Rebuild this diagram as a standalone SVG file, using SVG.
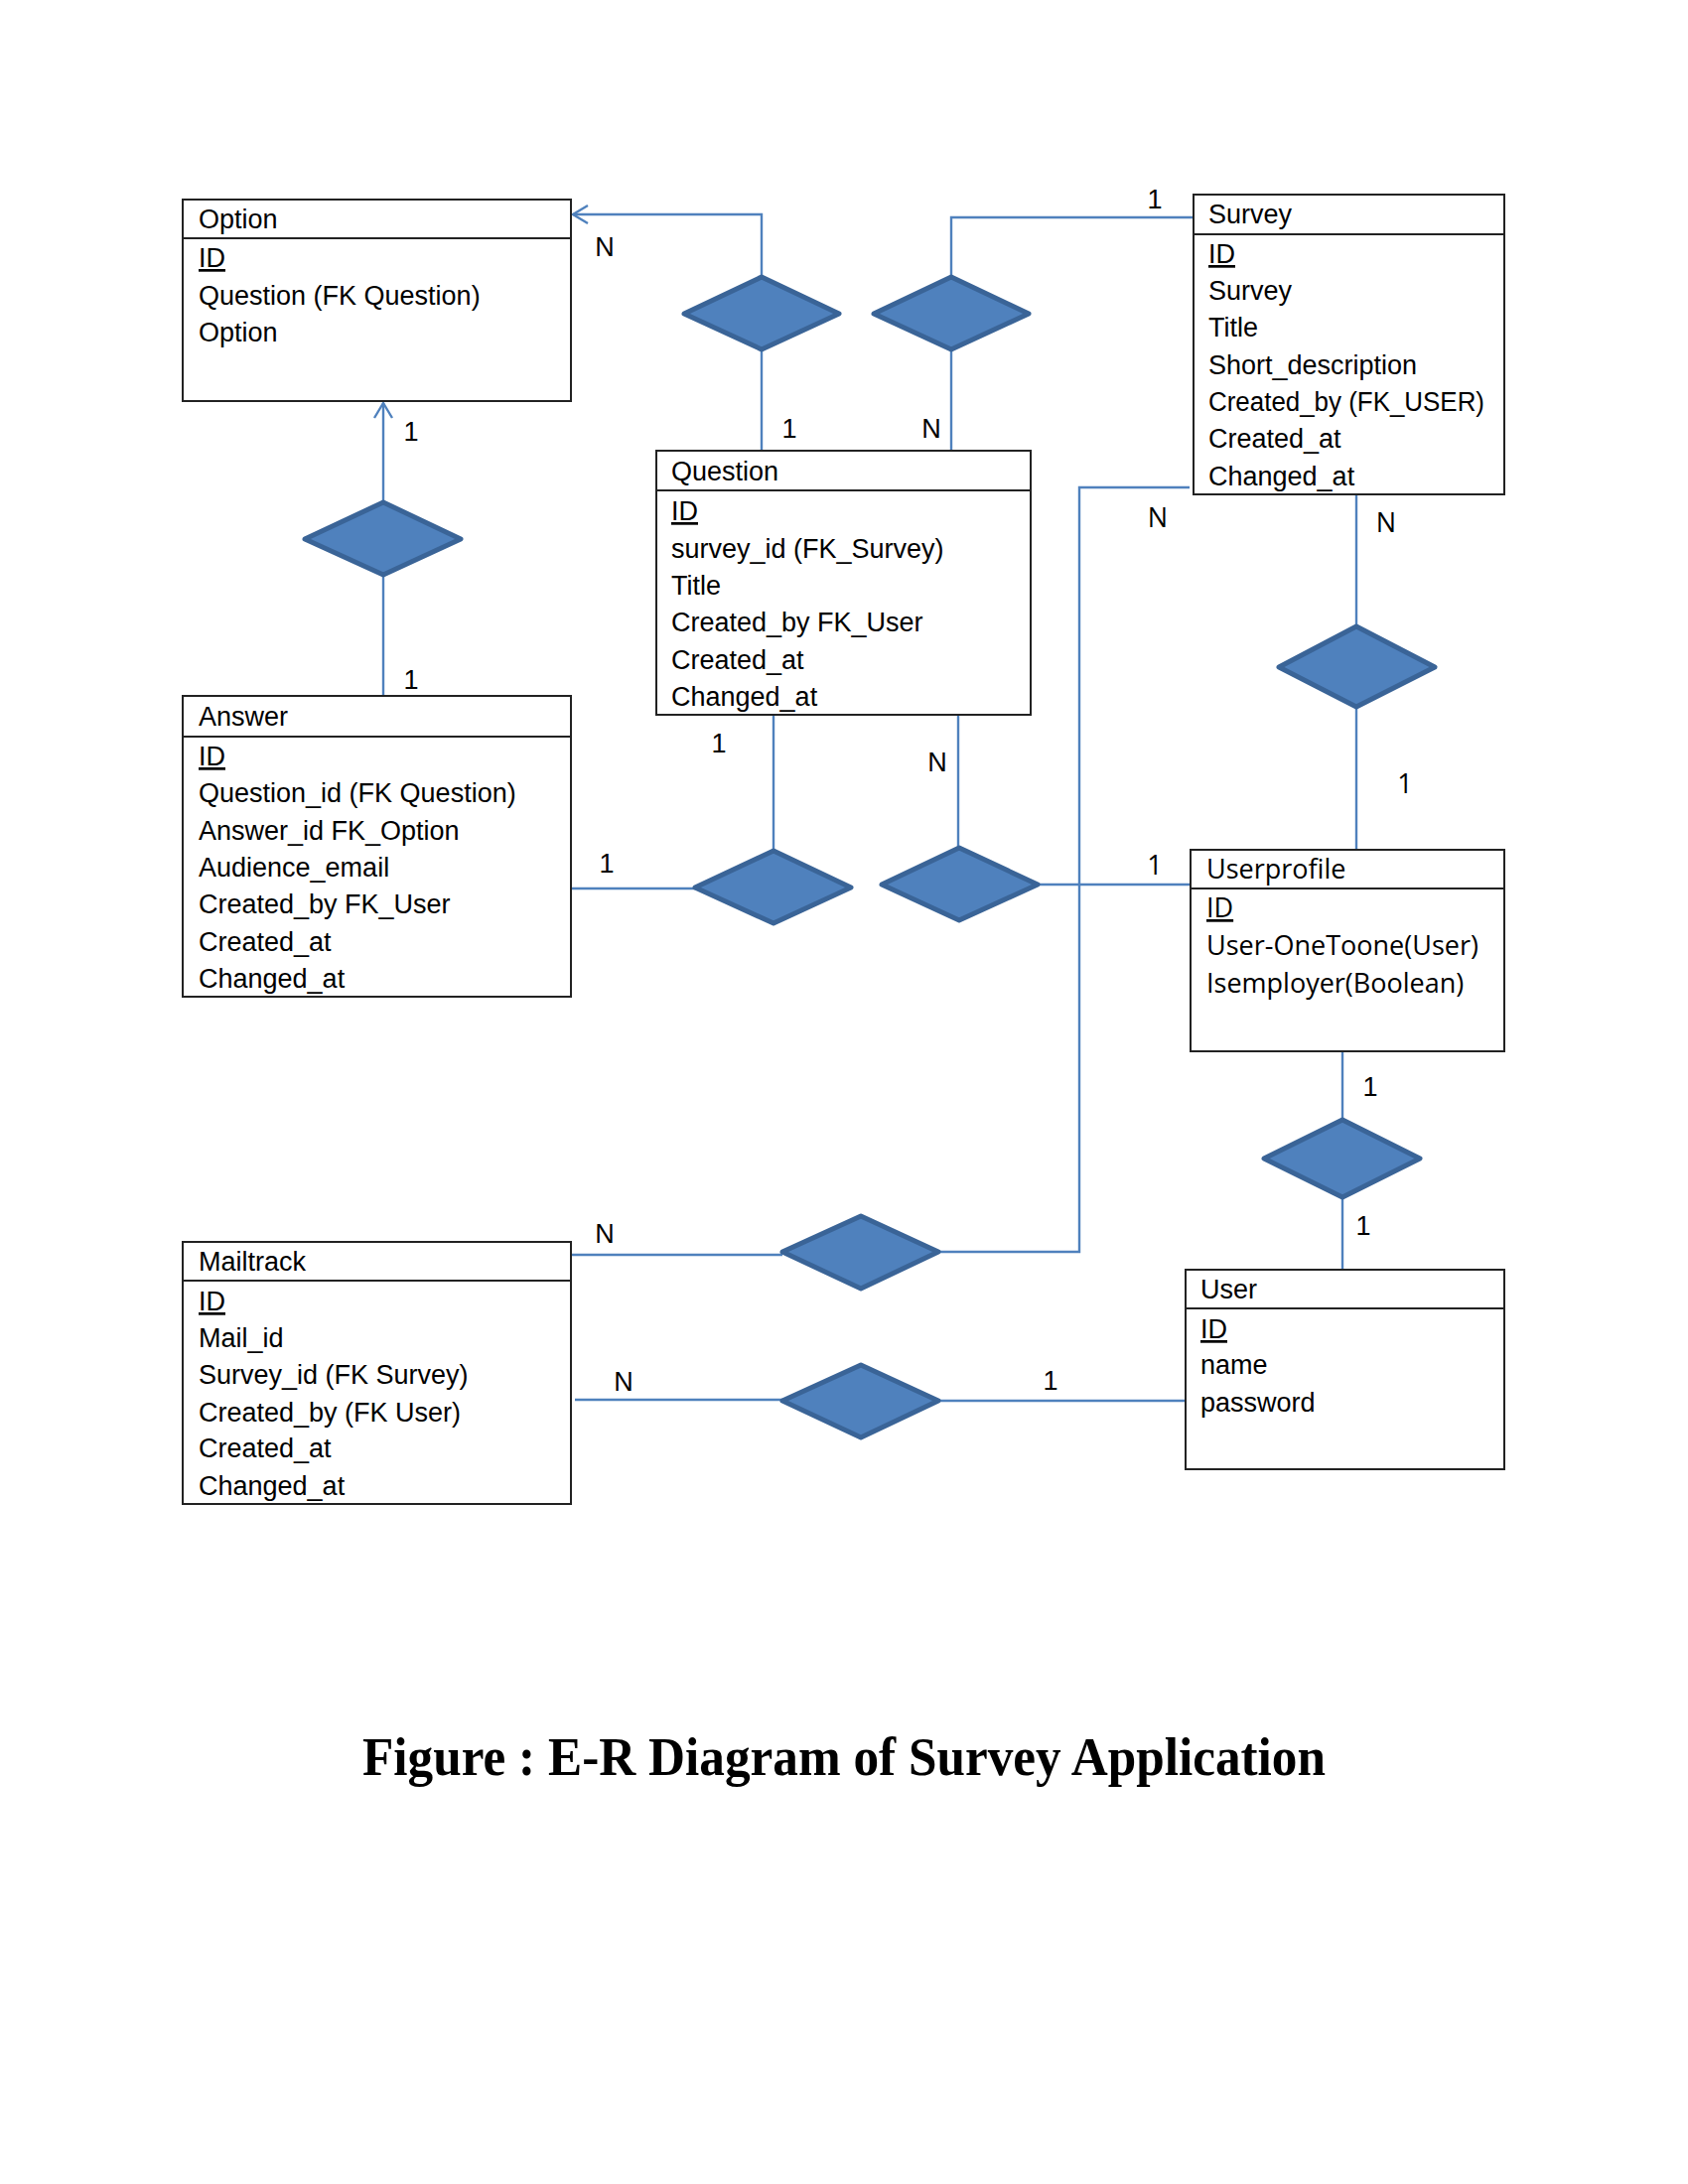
<svg xmlns="http://www.w3.org/2000/svg" width="1700" height="2200" viewBox="0 0 1700 2200">
<style>
.box{fill:#fff;stroke:#222;stroke-width:2}
.div{stroke:#222;stroke-width:2}
.t{font-family:"Liberation Sans",Arial,sans-serif;font-size:27px;fill:#000}
.o{font-family:"Open Sans","DejaVu Sans",sans-serif;font-size:27px;fill:#000}
.u{text-decoration:underline}
.dia{fill:#4f81bd;stroke:#3a6497;stroke-width:5;stroke-linejoin:round}
.ln{fill:none;stroke:#4f81bd;stroke-width:2.4}
.lbl{font-family:"Liberation Sans",Arial,sans-serif;font-size:27px;fill:#000;text-anchor:middle}
.lblo{font-family:"Open Sans","DejaVu Sans",sans-serif;font-size:27px;fill:#000;text-anchor:middle}
.cap{font-family:"Liberation Serif","Times New Roman",serif;font-size:55px;font-weight:bold;fill:#000;text-anchor:middle}
</style>
<rect width="1700" height="2200" fill="#fff"/>

<g id="connectors">
  <path class="ln" d="M767 279 V216 H577"/>
  <path class="ln" d="M592 207 L577 216 L592 225"/>
  <path class="ln" d="M767 352 V454"/>
  <path class="ln" d="M958 279 V219 H1202"/>
  <path class="ln" d="M958 352 V454"/>
  <path class="ln" d="M386 506 V406"/>
  <path class="ln" d="M377 421 L386 406 L395 421"/>
  <path class="ln" d="M386 579 V701"/>
  <path class="ln" d="M575 895 H700"/>
  <path class="ln" d="M779 857 V720"/>
  <path class="ln" d="M965 854 V720"/>
  <path class="ln" d="M1045 891 H1199"/>
  <path class="ln" d="M1198 491 H1087 V1261 H945"/>
  <path class="ln" d="M1366 498 V631"/>
  <path class="ln" d="M1366 712 V856"/>
  <path class="ln" d="M1352 1059 V1128"/>
  <path class="ln" d="M1352 1206 V1279"/>
  <path class="ln" d="M575 1264 H788"/>
  <path class="ln" d="M579 1410 H788"/>
  <path class="ln" d="M945 1411 H1194"/>
  <text class="lbl" x="609" y="258">N</text>
  <text class="lbl" x="795" y="441">1</text>
  <text class="lbl" x="1163" y="210">1</text>
  <text class="lbl" x="938" y="441">N</text>
  <text class="lbl" x="414" y="444">1</text>
  <text class="lbl" x="414" y="694">1</text>
  <text class="lbl" x="611" y="879">1</text>
  <text class="lbl" x="724" y="758">1</text>
  <text class="lbl" x="944" y="777">N</text>
  <text class="lblo" x="1163" y="881">1</text>
  <text class="lblo" x="1166" y="531">N</text>
  <text class="lblo" x="1396" y="536">N</text>
  <text class="lblo" x="1415" y="799">1</text>
  <text class="lbl" x="1380" y="1104">1</text>
  <text class="lbl" x="1373" y="1244">1</text>
  <text class="lbl" x="609" y="1252">N</text>
  <text class="lbl" x="628" y="1401">N</text>
  <text class="lbl" x="1058" y="1400">1</text>
</g>

<g id="rel-option-question"><polygon class="dia" points="767,279 845,316 767,352 689,316"/></g>
<g id="rel-survey-question"><polygon class="dia" points="958,279 1036,316 958,352 880,316"/></g>
<g id="rel-option-answer"><polygon class="dia" points="386,506 464,543 386,579 307,543"/></g>
<g id="rel-answer-question"><polygon class="dia" points="779,857 857,894 779,930 700,894"/></g>
<g id="rel-question-userprofile"><polygon class="dia" points="966,854 1045,891 966,927 888,891"/></g>
<g id="rel-survey-userprofile"><polygon class="dia" points="1366,631 1445,672 1366,712 1288,672"/></g>
<g id="rel-userprofile-user"><polygon class="dia" points="1352,1128 1430,1167 1352,1206 1273,1167"/></g>
<g id="rel-mailtrack-survey"><polygon class="dia" points="867,1225 945,1261 867,1298 788,1261"/></g>
<g id="rel-mailtrack-user"><polygon class="dia" points="867,1375 945,1411 867,1448 788,1411"/></g>

<g id="option">
  <rect class="box" x="184" y="201" width="391" height="203"/>
  <line class="div" x1="184" y1="240" x2="575" y2="240"/>
  <text class="t" x="200" y="230">Option</text>
  <text class="t u" x="200" y="269">ID</text>
  <text class="t" x="200" y="307">Question (FK Question)</text>
  <text class="t" x="200" y="344">Option</text>
</g>

<g id="survey">
  <rect class="box" x="1202" y="196" width="313" height="302"/>
  <line class="div" x1="1202" y1="236" x2="1515" y2="236"/>
  <text class="t" x="1217" y="225">Survey</text>
  <text class="t u" x="1217" y="265">ID</text>
  <text class="t" x="1217" y="302">Survey</text>
  <text class="t" x="1217" y="339">Title</text>
  <text class="t" x="1217" y="377">Short_description</text>
  <text class="t" x="1217" y="414" textLength="278" lengthAdjust="spacingAndGlyphs">Created_by (FK_USER)</text>
  <text class="t" x="1217" y="451">Created_at</text>
  <text class="t" x="1217" y="489">Changed_at</text>
</g>

<g id="question">
  <rect class="box" x="661" y="454" width="377" height="266"/>
  <line class="div" x1="661" y1="494" x2="1038" y2="494"/>
  <text class="t" x="676" y="484">Question</text>
  <text class="t u" x="676" y="524">ID</text>
  <text class="t" x="676" y="562">survey_id (FK_Survey)</text>
  <text class="t" x="676" y="599">Title</text>
  <text class="t" x="676" y="636">Created_by FK_User</text>
  <text class="t" x="676" y="674">Created_at</text>
  <text class="t" x="676" y="711">Changed_at</text>
</g>

<g id="answer">
  <rect class="box" x="184" y="701" width="391" height="303"/>
  <line class="div" x1="184" y1="742" x2="575" y2="742"/>
  <text class="t" x="200" y="731">Answer</text>
  <text class="t u" x="200" y="771">ID</text>
  <text class="t" x="200" y="808">Question_id (FK Question)</text>
  <text class="t" x="200" y="846">Answer_id FK_Option</text>
  <text class="t" x="200" y="883">Audience_email</text>
  <text class="t" x="200" y="920">Created_by FK_User</text>
  <text class="t" x="200" y="958">Created_at</text>
  <text class="t" x="200" y="995">Changed_at</text>
</g>

<g id="userprofile">
  <rect class="box" x="1199" y="856" width="316" height="203"/>
  <line class="div" x1="1199" y1="895" x2="1515" y2="895"/>
  <text class="o" x="1215" y="885">Userprofile</text>
  <text class="o u" x="1215" y="924">ID</text>
  <text class="o" x="1215" y="962">User-OneToone(User)</text>
  <text class="o" x="1215" y="1000">Isemployer(Boolean)</text>
</g>

<g id="mailtrack">
  <rect class="box" x="184" y="1251" width="391" height="264"/>
  <line class="div" x1="184" y1="1290" x2="575" y2="1290"/>
  <text class="t" x="200" y="1280">Mailtrack</text>
  <text class="t u" x="200" y="1320">ID</text>
  <text class="t" x="200" y="1357">Mail_id</text>
  <text class="t" x="200" y="1394">Survey_id (FK Survey)</text>
  <text class="t" x="200" y="1432">Created_by (FK User)</text>
  <text class="t" x="200" y="1468">Created_at</text>
  <text class="t" x="200" y="1506">Changed_at</text>
</g>

<g id="user">
  <rect class="box" x="1194" y="1279" width="321" height="201"/>
  <line class="div" x1="1194" y1="1318" x2="1515" y2="1318"/>
  <text class="t" x="1209" y="1308">User</text>
  <text class="t u" x="1209" y="1348">ID</text>
  <text class="t" x="1209" y="1384">name</text>
  <text class="t" x="1209" y="1422">password</text>
</g>

<g id="caption">
  <text class="cap" x="850" y="1788" textLength="970" lengthAdjust="spacingAndGlyphs">Figure : E-R Diagram of Survey Application</text>
</g>
</svg>
